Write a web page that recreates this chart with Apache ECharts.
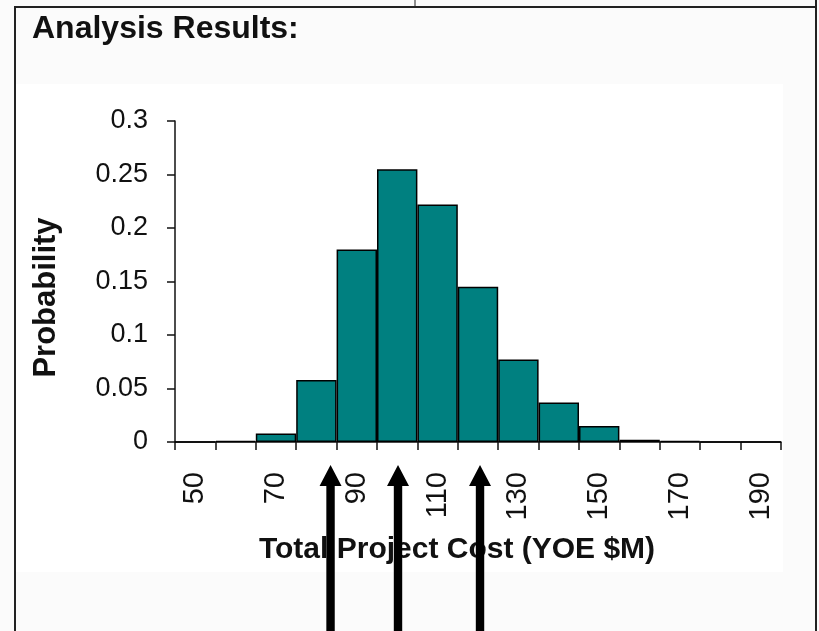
<!DOCTYPE html>
<html>
<head>
<meta charset="utf-8">
<script src="https://cdn.jsdelivr.net/npm/echarts@6/dist/echarts.min.js"></script>
<style>
html,body{margin:0;padding:0;background:#fbfbfb;}
#chart{width:819px;height:631px;}
</style>
</head>
<body>
<div id="chart"></div>
<script>
// Histogram bins (Total Project Cost, YOE $M) and probabilities
const categories = ['50','60','70','80','90','100','110','120','130','140','150','160','170','180','190'];
const probabilities = [0, 0.001, 0.008, 0.058, 0.18, 0.255, 0.222, 0.145, 0.077, 0.037, 0.015, 0.002, 0.001, 0, 0];
// Arrow markers (cost values pointed at below the axis)
const markerValues = [83.5, 100.2, 120.5];
const yTicks = [0, 0.05, 0.1, 0.15, 0.2, 0.25, 0.3];

const chart = echarts.init(document.getElementById('chart'), null, {renderer: 'canvas'});
const FONT = '"Liberation Sans", Arial, sans-serif';

const option = {
  backgroundColor: '#fbfbfb',
  animation: false,
  title: {
    text: 'Analysis Results:',
    left: 27,
    top: 8,
    textStyle: {fontFamily: FONT, fontSize: 32, fontWeight: 'bold', color: '#111'}
  },
  graphic: [
    {type: 'rect', z: -10, shape: {x: 16, y: 84, width: 767, height: 488}, style: {fill: '#ffffff'}, silent: true},
    {type: 'rect', z: 100, shape: {x: 15, y: 7, width: 801, height: 640}, style: {fill: 'none', stroke: '#222', lineWidth: 2}, silent: true},
    {type: 'line', z: 100, shape: {x1: 816, y1: 0, x2: 816, y2: 8}, style: {stroke: '#222', lineWidth: 2}, silent: true},
    {type: 'line', z: 100, shape: {x1: 415, y1: 0, x2: 415, y2: 7}, style: {stroke: '#222', lineWidth: 1}, silent: true}
  ],
  grid: {left: 175, right: 38, top: 121, bottom: 189, containLabel: false},
  xAxis: [
    {
      type: 'category',
      data: categories,
      boundaryGap: true,
      name: 'Total Project Cost (YOE $M)',
      nameLocation: 'middle',
      nameGap: 93,
      nameTextStyle: {fontFamily: FONT, fontSize: 30, fontWeight: 'bold', color: '#111', padding: [0, 42, 0, 0]},
      axisLine: {lineStyle: {color: '#111', width: 1.5}},
      axisTick: {show: true, interval: 0, length: 8, lineStyle: {color: '#111', width: 1.5}},
      axisLabel: {interval: 1, rotate: 90, margin: 30, fontFamily: FONT, fontSize: 29, color: '#111'},
      splitLine: {show: false}
    },
    {
      type: 'value',
      min: 45,
      max: 195,
      show: false
    }
  ],
  yAxis: {
    type: 'value',
    min: yTicks[0],
    max: yTicks[yTicks.length - 1],
    interval: 0.05,
    name: 'Probability',
    nameLocation: 'middle',
    nameRotate: 90,
    nameGap: 113,
    nameTextStyle: {fontFamily: FONT, fontSize: 31, fontWeight: 'bold', color: '#111', padding: [0, 32, 0, 0]},
    axisLine: {show: true, lineStyle: {color: '#111', width: 1.5}},
    axisTick: {show: true, length: 8, lineStyle: {color: '#111', width: 1.5}},
    axisLabel: {margin: 27, fontFamily: FONT, fontSize: 27, color: '#111'},
    splitLine: {show: false}
  },
  series: [
    {
      type: 'bar',
      data: probabilities,
      barCategoryGap: '0%',
      itemStyle: {color: '#008080', borderColor: '#000', borderWidth: 1.5}
    },
    {
      type: 'custom',
      xAxisIndex: 1,
      yAxisIndex: 0,
      clip: false,
      z: 10,
      data: markerValues.map(v => [v]),
      renderItem: function (params, api) {
        const p = api.coord([api.value(0), 0]);
        const x = p[0];
        const tip = p[1] + 23;
        const headH = 21, headW = 11, shaft = 4.2;
        const yEnd = api.getHeight() + 5;
        return {
          type: 'polygon',
          shape: {points: [[x, tip], [x + headW, tip + headH], [x + shaft, tip + headH], [x + shaft, yEnd], [x - shaft, yEnd], [x - shaft, tip + headH], [x - headW, tip + headH]]},
          style: {fill: '#000'}
        };
      }
    }
  ]
};
chart.setOption(option);
</script>
</body>
</html>
